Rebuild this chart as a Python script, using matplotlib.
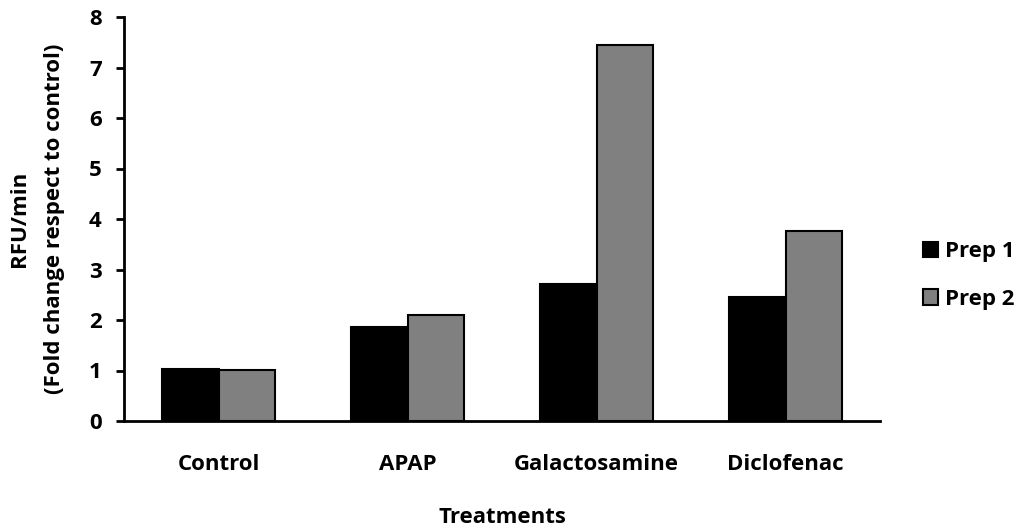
import matplotlib.pyplot as plt
import numpy as np

plt.rcParams['font.family'] = ['Open Sans', 'DejaVu Sans']
plt.rcParams['font.weight'] = 'bold'

treatments = ['Control', 'APAP', 'Galactosamine', 'Diclofenac']
prep1 = [1.03, 1.87, 2.71, 2.46]
prep2 = [1.01, 2.10, 7.45, 3.77]

x = np.arange(len(treatments))
w = 0.3
fs = 16

fig = plt.figure(figsize=(10.16, 5.28), dpi=100)
ax = fig.add_axes([124/1016, 1-421/528, 756/1016, 404/528])

ax.bar(x - w/2, prep1, w, color='black', edgecolor='black', linewidth=1.5, label='Prep 1')
ax.bar(x + w/2, prep2, w, color='#808080', edgecolor='black', linewidth=1.5, label='Prep 2')

ax.set_xlim(-0.5, 3.5)
ax.set_ylim(0, 8)
ax.set_yticks(range(0, 9))
ax.set_xticks(x)
ax.set_xticklabels(treatments)
ax.tick_params(axis='x', length=0, pad=24, labelsize=fs)
ax.tick_params(axis='y', length=6, width=2, pad=10, labelsize=fs)
for s in ['top', 'right']:
    ax.spines[s].set_visible(False)
for s in ['left', 'bottom']:
    ax.spines[s].set_linewidth(2)

ax.set_xlabel('Treatments', fontsize=fs, fontweight='bold', labelpad=23)
ax.set_ylabel('RFU/min\n(Fold change respect to control)', fontsize=fs,
              fontweight='bold', labelpad=17, linespacing=1.9)

leg = ax.legend(loc='center left', bbox_to_anchor=(1.03, 0.36), frameon=False,
                fontsize=fs, handlelength=0.7, handleheight=0.7, handletextpad=0.3,
                labelspacing=1.2)

fig.savefig('out.png', dpi=100)
